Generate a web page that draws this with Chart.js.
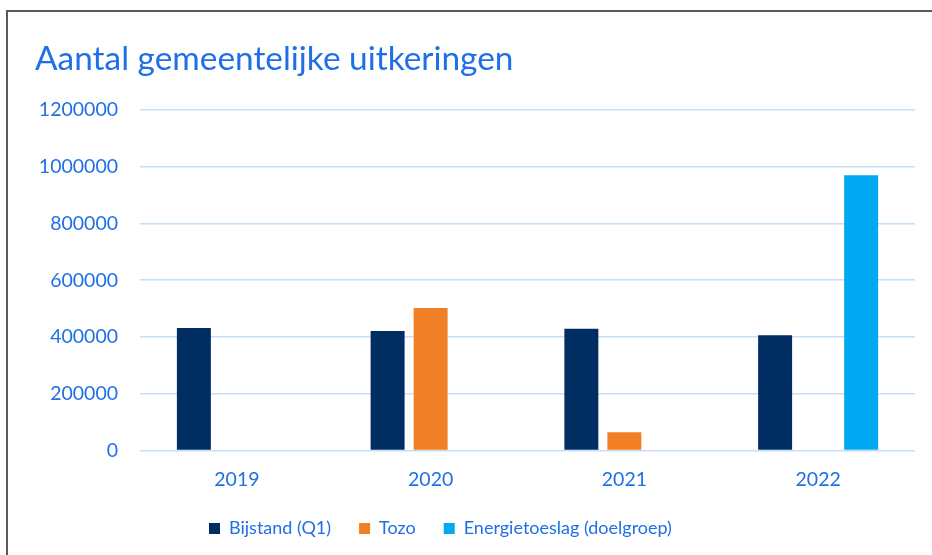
<!DOCTYPE html>
<html>
<head>
<meta charset="utf-8">
<script src="https://cdn.jsdelivr.net/npm/chart.js@4"></script>
<style>
  html, body { margin: 0; padding: 0; background: #ffffff; overflow: hidden; }
  #frame { position: absolute; left: 6px; top: 10px; width: 1000px; height: 1000px; border: 2px solid #5a5a5a; box-sizing: border-box; }
  #wrap { position: absolute; left: 0; top: 0; width: 932px; height: 555px; }
</style>
</head>
<body>
<div id="frame"></div>
<div id="wrap"><canvas id="c" width="932" height="555"></canvas></div>
<script>
const categories = ['2019', '2020', '2021', '2022'];
const bijstand = [432000, 421000, 429000, 406000];
const tozo = [null, 502000, 65000, null];
const energietoeslag = [null, null, null, 970000];
const yTicks = [0, 200000, 400000, 600000, 800000, 1000000, 1200000];
const seriesNames = ['Bijstand (Q1)', 'Tozo', 'Energietoeslag (doelgroep)'];
const titleText = 'Aantal gemeentelijke uitkeringen';

const BLUE_TEXT = '#1F6FE6';
const FONT = 'Lato, "Open Sans", sans-serif';
const LEGEND_START_X = 209;

const legendShift = {
  id: 'legendShift',
  afterLayout(chart) {
    const L = chart.legend;
    if (!L || !L.lineWidths) return;
    const pad = L.options.labels.padding;
    const start = (L.left + pad + L.right - L.lineWidths[0]) / 2;
    const dx = LEGEND_START_X - start;
    L.left += dx;
    L.right += dx;
  }
};

new Chart(document.getElementById('c'), {
  type: 'bar',
  data: {
    labels: categories,
    datasets: [
      { label: seriesNames[0], data: bijstand, backgroundColor: '#002D62' },
      { label: seriesNames[1], data: tozo, backgroundColor: '#F07F26' },
      { label: seriesNames[2], data: energietoeslag, backgroundColor: '#00A9F1' }
    ]
  },
  options: {
    responsive: false,
    animation: false,
    devicePixelRatio: 1,
    layout: { padding: { left: 35, right: 17, top: 20, bottom: 7.5 } },
    datasets: { bar: { categoryPercentage: 0.666, barPercentage: 0.79 } },
    plugins: {
      title: {
        display: true,
        text: titleText,
        align: 'start',
        color: BLUE_TEXT,
        font: { family: FONT, size: 33.4, weight: 'normal' },
        padding: { top: 19, bottom: 30.8 }
      },
      legend: {
        position: 'bottom',
        labels: {
          color: BLUE_TEXT,
          font: { family: FONT, size: 18 },
          boxWidth: 11,
          boxHeight: 11,
          padding: 28
        }
      },
      tooltip: { enabled: false }
    },
    scales: {
      x: {
        afterFit(scale) { scale.height -= 16.5; },
        grid: { display: false, drawTicks: false },
        border: { display: false },
        ticks: { color: BLUE_TEXT, font: { family: FONT, size: 19.5 }, padding: 17 }
      },
      y: {
        min: 0,
        max: 1200000,
        afterFit(scale) { scale.width = 105; },
        afterBuildTicks(scale) { scale.ticks = yTicks.map(v => ({ value: v })); },
        grid: { color: '#C6DEF7', lineWidth: 1.5, drawTicks: false },
        border: { display: false },
        ticks: { color: BLUE_TEXT, font: { family: FONT, size: 19.5 }, padding: 22, callback: v => String(v) }
      }
    }
  },
  plugins: [legendShift]
});
</script>
</body>
</html>
